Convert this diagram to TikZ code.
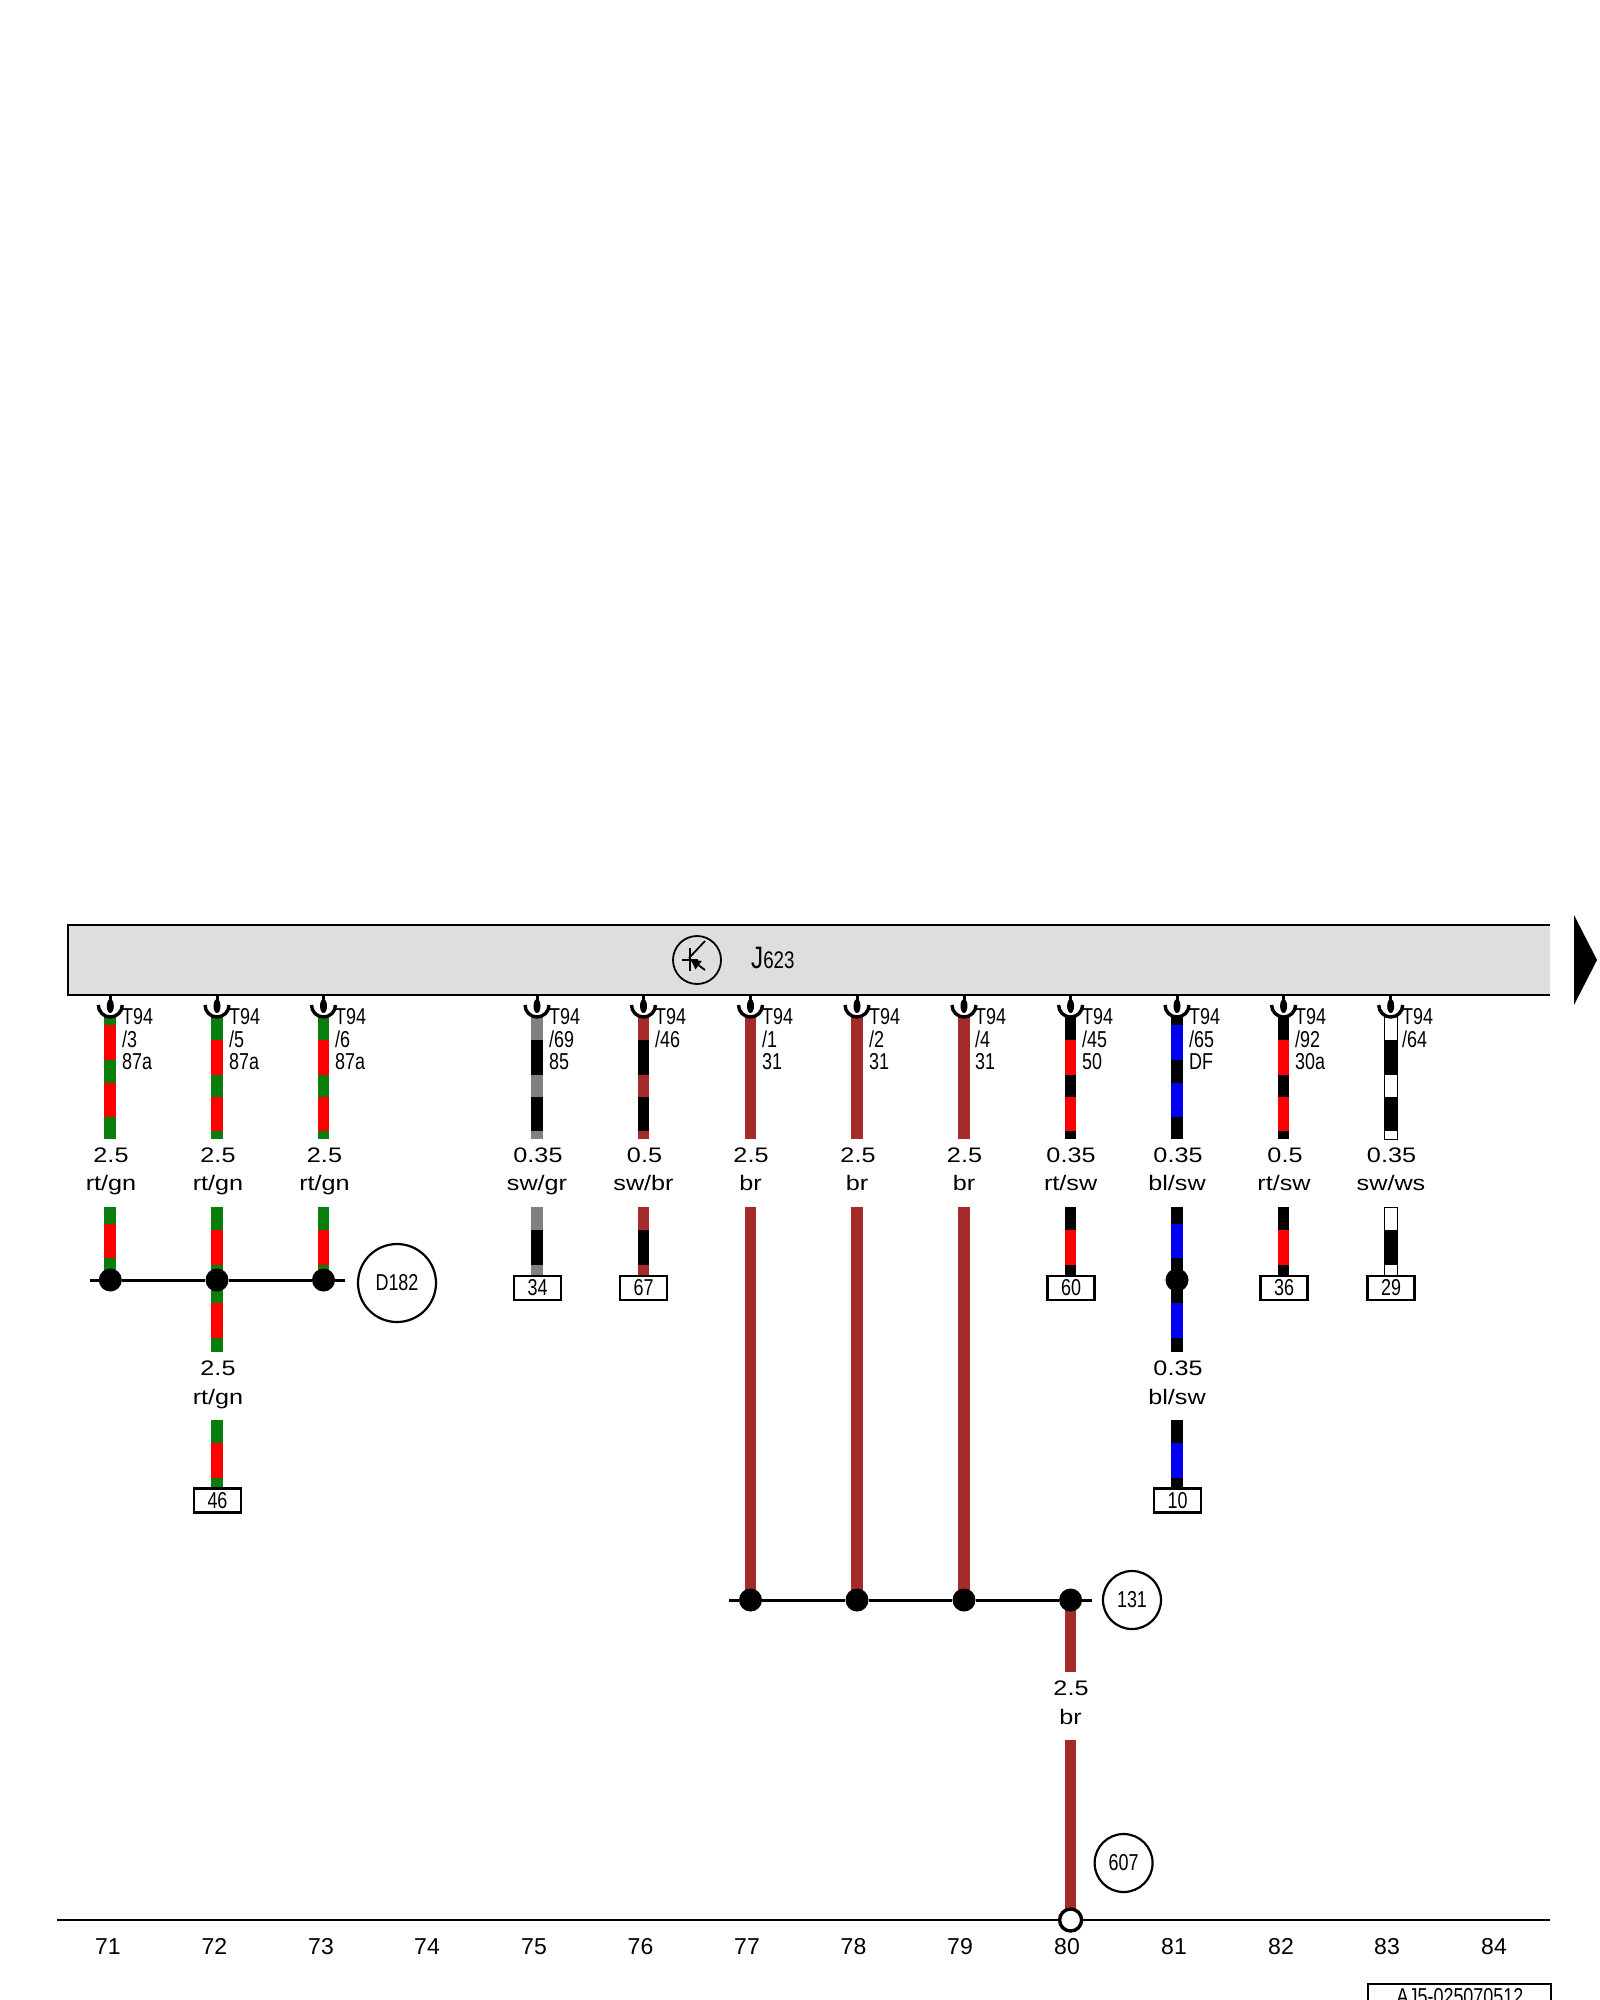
\documentclass[tikz,border=0pt]{standalone}
\usepackage{fontspec}
\setmainfont{Liberation Sans}
\newfontfamily\widefont[FakeStretch=1.2]{Liberation Sans}
\newfontfamily\thinfont[FakeStretch=0.78]{Liberation Sans}
\usetikzlibrary{arrows.meta}

\definecolor{wgreen}{RGB}{10,125,15}
\definecolor{wred}{RGB}{255,0,0}
\definecolor{wbrown}{RGB}{165,42,42}
\definecolor{wgray}{RGB}{128,128,128}
\definecolor{wblue}{RGB}{0,0,240}
\definecolor{barfill}{RGB}{222,222,222}

\tikzset{
  wire/.style={line width=11.7pt},
  busline/.style={black,line width=3pt},
  dot/.style={circle,fill=black,minimum size=23pt,inner sep=0pt},
  gauge/.style={anchor=base,font=\widefont\fontsize{21}{24}\selectfont},
  pinlabel/.style={anchor=north west,inner sep=0pt,align=left,font=\thinfont\fontsize{23}{22.5}\selectfont},
  wirebox/.style={draw,fill=white,line width=2.2pt,minimum width=47pt,minimum height=24pt,inner sep=0pt,font=\thinfont\fontsize{23}{24}\selectfont},
  ring/.style={draw,circle,line width=2.2pt,minimum size=58pt,inner sep=0pt,font=\thinfont\fontsize{23}{24}\selectfont},
  axisnum/.style={anchor=base,font=\fontsize{23}{24}\selectfont}
}

% stripe positions along a wire
\def\toplong{1040/1075,1097/1131}
\def\topshort{1025/1060,1083/1117}
\def\lowlong{1230/1265}
\def\lowshort{1224/1258}
\def\midpart{1303/1338}
\def\endpart{1443/1478}

% x, y from, y to, base colour, stripe colour, stripes
\newcommand{\wirepart}[6]{
  \draw[wire,#4] (#1,#2) -- (#1,#3);
  \foreach \ya/\yb in #6 {\draw[wire,#5] (#1,\ya) -- (#1,\yb);}
}
% plug at the control unit
\newcommand{\plug}[1]{
  \draw[black,line width=3pt] (#1,995) -- (#1,1003);
  \fill[black] (#1,1006) ellipse [x radius=3.5pt,y radius=7pt];
  \draw[black,line width=3.4pt] (#1-12,1005) arc [start angle=180,end angle=360,radius=12pt];
}

\begin{document}
\begin{tikzpicture}[x=1pt,y=-1pt]
\clip (0,0) rectangle (1600,2000);

% control unit
\fill[barfill] (68,925) rectangle (1550,995);
\draw[black,line width=2.2pt] (1550,925) -- (68,925) -- (68,995) -- (1550,995);
\fill[black] (1574,915) -- (1597,960) -- (1574,1005) -- cycle;
\node[draw,circle,line width=1.8pt,minimum size=48pt,inner sep=0pt] (sym) at (697,960) {};
\coordinate (symA) at (690,948);
\coordinate (symB) at (690,971);
\coordinate (symC) at (682,960);
\coordinate (symD) at (698,960);
\coordinate (symE) at (705,941);
\coordinate (symF) at (705,970);
\coordinate (symG) at (689,958);
\draw[line width=1.8pt] (symA) -- (symB);
\draw[line width=1.8pt] (symC) -- (symD);
\draw[line width=1.8pt] (symG) -- (symE);
\draw[line width=1.8pt,-{Latex[length=12pt,width=11pt]}] (symF) -- (symG);
\node[anchor=base west,inner sep=0pt] (J) at (751,968) {\thinfont\fontsize{31}{32}\selectfont J\fontsize{24}{24}\selectfont 623};

% wires, upper part
\wirepart{110.3}{1016}{1139}{wgreen}{wred}{\topshort}
\wirepart{217}{1016}{1139}{wgreen}{wred}{\toplong}
\wirepart{323.5}{1016}{1139}{wgreen}{wred}{\toplong}
\wirepart{537}{1016}{1139}{wgray}{black}{\toplong}
\wirepart{643.5}{1016}{1139}{wbrown}{black}{\toplong}
\draw[wire,wbrown] (750.5,1016) -- (750.5,1139);
\draw[wire,wbrown] (857,1016) -- (857,1139);
\draw[wire,wbrown] (964,1016) -- (964,1139);
\wirepart{1070.6}{1016}{1139}{black}{wred}{\toplong}
\wirepart{1177}{1016}{1139}{black}{wblue}{\topshort}
\wirepart{1283.6}{1016}{1139}{black}{wred}{\toplong}
\draw[fill=white,line width=1pt] (1384,1016) rectangle (1397.5,1139);
\wirepart{1390.7}{1017}{1138.5}{white}{black}{\toplong}

% wires, lower part
\wirepart{110.3}{1207}{1280}{wgreen}{wred}{\lowshort}
\wirepart{217}{1207}{1280}{wgreen}{wred}{\lowlong}
\wirepart{323.5}{1207}{1280}{wgreen}{wred}{\lowlong}
\wirepart{217}{1280}{1352}{wgreen}{wred}{\midpart}
\wirepart{217}{1420}{1490}{wgreen}{wred}{\endpart}
\wirepart{537}{1207}{1277}{wgray}{black}{\lowlong}
\wirepart{643.5}{1207}{1277}{wbrown}{black}{\lowlong}
\wirepart{1070.6}{1207}{1277}{black}{wred}{\lowlong}
\wirepart{1177}{1207}{1280}{black}{wblue}{\lowshort}
\wirepart{1177}{1280}{1352}{black}{wblue}{\midpart}
\wirepart{1177}{1420}{1490}{black}{wblue}{\endpart}
\wirepart{1283.6}{1207}{1277}{black}{wred}{\lowlong}
\draw[fill=white,line width=1pt] (1384,1207) rectangle (1397.5,1277);
\wirepart{1390.7}{1207.5}{1277}{white}{black}{\lowlong}

% plugs
\plug{110.3} \plug{217} \plug{323.5} \plug{537} \plug{643.5} \plug{750.5}
\plug{857} \plug{964} \plug{1070.6} \plug{1177} \plug{1283.6} \plug{1390.7}

% pin labels
\node[pinlabel] (p71) at (122,1008.5) {T94\\/3\\87a};
\node[pinlabel] (p72) at (229,1008.5) {T94\\/5\\87a};
\node[pinlabel] (p73) at (335,1008.5) {T94\\/6\\87a};
\node[pinlabel] (p75) at (549,1008.5) {T94\\/69\\85};
\node[pinlabel] (p76) at (655,1008.5) {T94\\/46};
\node[pinlabel] (p77) at (762,1008.5) {T94\\/1\\31};
\node[pinlabel] (p78) at (869,1008.5) {T94\\/2\\31};
\node[pinlabel] (p79) at (975,1008.5) {T94\\/4\\31};
\node[pinlabel] (p80) at (1082,1008.5) {T94\\/45\\50};
\node[pinlabel] (p81) at (1189,1008.5) {T94\\/65\\DF};
\node[pinlabel] (p82) at (1295,1008.5) {T94\\/92\\30a};
\node[pinlabel] (p83) at (1402,1008.5) {T94\\/64};

% wire sizes and colours
\node[gauge] (g71) at (111,1162) {2.5};
\node[gauge] (c71) at (111,1190) {rt/gn};
\node[gauge] (g72) at (218,1162) {2.5};
\node[gauge] (c72) at (218,1190) {rt/gn};
\node[gauge] (g73) at (324.5,1162) {2.5};
\node[gauge] (c73) at (324.5,1190) {rt/gn};
\node[gauge] (g75) at (538,1162) {0.35};
\node[gauge] (c75) at (537,1190) {sw/gr};
\node[gauge] (g76) at (644.5,1162) {0.5};
\node[gauge] (c76) at (643.5,1190) {sw/br};
\node[gauge] (g77) at (751,1162) {2.5};
\node[gauge] (c77) at (750.5,1190) {br};
\node[gauge] (g78) at (858,1162) {2.5};
\node[gauge] (c78) at (857,1190) {br};
\node[gauge] (g79) at (964.5,1162) {2.5};
\node[gauge] (c79) at (964,1190) {br};
\node[gauge] (g80) at (1071,1162) {0.35};
\node[gauge] (c80) at (1070.6,1190) {rt/sw};
\node[gauge] (g81) at (1178,1162) {0.35};
\node[gauge] (c81) at (1177,1190) {bl/sw};
\node[gauge] (g82) at (1285,1162) {0.5};
\node[gauge] (c82) at (1284,1190) {rt/sw};
\node[gauge] (g83) at (1391.5,1162) {0.35};
\node[gauge] (c83) at (1391,1190) {sw/ws};
\node[gauge] (g72b) at (218,1375) {2.5};
\node[gauge] (c72b) at (218,1404) {rt/gn};
\node[gauge] (g81b) at (1178,1375) {0.35};
\node[gauge] (c81b) at (1177,1404) {bl/sw};
\node[gauge] (g80b) at (1071,1695) {2.5};
\node[gauge] (c80b) at (1070.6,1724) {br};

% first bus
\node[dot] (d71) at (110.3,1280) {};
\node[dot] (d72) at (217,1280) {};
\node[dot] (d73) at (323.5,1280) {};
\coordinate (busA) at (90,1280);
\coordinate (busB) at (345,1280);
\draw[busline] (busA) -- (d71) -- (d72) -- (d73) -- (busB);
\node[ring,minimum size=78pt] (D182) at (397,1283) {D182};
\node[dot] (d81) at (1177,1280) {};

% second bus and ground wire
\draw[wire,wbrown] (750.5,1207) -- (750.5,1600);
\draw[wire,wbrown] (857,1207) -- (857,1600);
\draw[wire,wbrown] (964,1207) -- (964,1600);
\draw[wire,wbrown] (1070.6,1600) -- (1070.6,1672);
\draw[wire,wbrown] (1070.6,1740) -- (1070.6,1920);
\node[dot] (d77) at (750.5,1600) {};
\node[dot] (d78) at (857,1600) {};
\node[dot] (d79) at (964,1600) {};
\node[dot] (d80) at (1070.6,1600) {};
\coordinate (busC) at (729,1600);
\coordinate (busD) at (1092,1600);
\draw[busline] (busC) -- (d77) -- (d78) -- (d79) -- (d80) -- (busD);
\node[ring] (n131) at (1132,1600) {131};
\node[ring] (n607) at (1123.6,1863) {607};

% terminal boxes
\node[wirebox] (b34) at (537.5,1288) {34};
\node[wirebox] (b67) at (643.5,1288) {67};
\node[wirebox] (b60) at (1071,1288) {60};
\node[wirebox] (b36) at (1284,1288) {36};
\node[wirebox] (b29) at (1391,1288) {29};
\node[wirebox] (b46) at (217.5,1500.5) {46};
\node[wirebox] (b10) at (1177.5,1500.5) {10};

% ground line and track numbers
\coordinate (gndA) at (57,1920);
\coordinate (gndB) at (1550,1920);
\draw[black,line width=2.2pt] (gndA) -- (gndB);
\node[draw,circle,fill=white,line width=3.4pt,minimum size=22pt,inner sep=0pt] (gnd) at (1070.6,1920) {};
\node[axisnum] (t71) at (108,1954.5) {71};
\node[axisnum] (t72) at (214.5,1954.5) {72};
\node[axisnum] (t73) at (321,1954.5) {73};
\node[axisnum] (t74) at (427,1954.5) {74};
\node[axisnum] (t75) at (534,1954.5) {75};
\node[axisnum] (t76) at (640.5,1954.5) {76};
\node[axisnum] (t77) at (747,1954.5) {77};
\node[axisnum] (t78) at (853.5,1954.5) {78};
\node[axisnum] (t79) at (960,1954.5) {79};
\node[axisnum] (t80) at (1067,1954.5) {80};
\node[axisnum] (t81) at (1174,1954.5) {81};
\node[axisnum] (t82) at (1281,1954.5) {82};
\node[axisnum] (t83) at (1387,1954.5) {83};
\node[axisnum] (t84) at (1494,1954.5) {84};

% drawing number, cut by the page edge
\draw[black,line width=2.2pt] (1368,2010) -- (1368,1984) -- (1551,1984) -- (1551,2010);
\node[anchor=base,inner sep=0pt,font=\thinfont\fontsize{23}{24}\selectfont] (ref) at (1460,2004) {AJ5-025070512};
\end{tikzpicture}
\end{document}
